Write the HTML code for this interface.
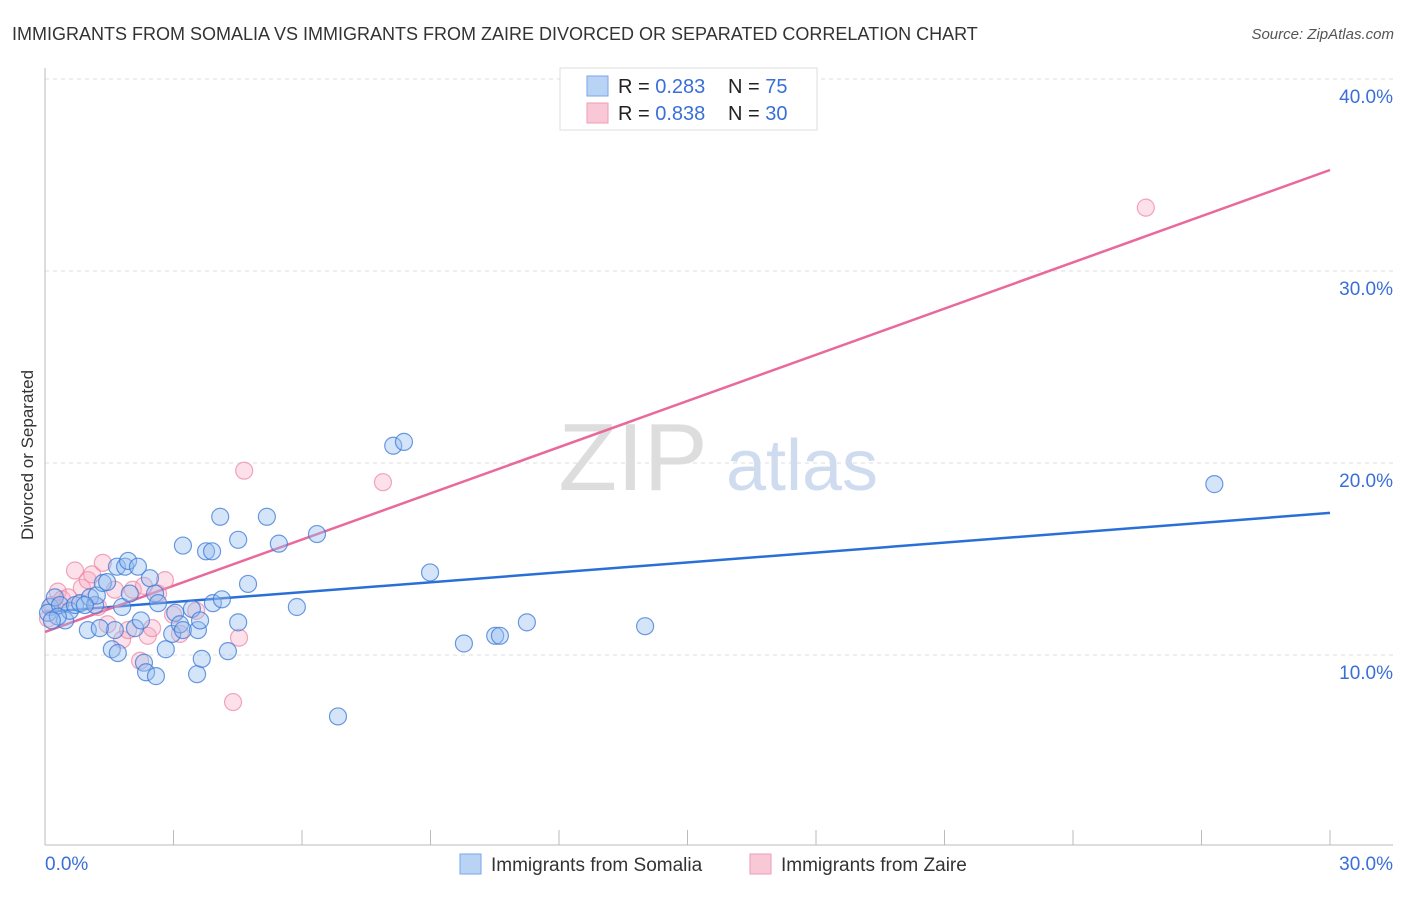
<!DOCTYPE html>
<html><head><meta charset="utf-8"><style>
body{margin:0;background:#fff;font-family:"Liberation Sans",sans-serif;}
svg text{font-family:"Liberation Sans",sans-serif;}
</style></head><body>
<svg id="c" width="1406" height="892" xmlns="http://www.w3.org/2000/svg">
<text x="12" y="40" font-size="18" fill="#333">IMMIGRANTS FROM SOMALIA VS IMMIGRANTS FROM ZAIRE DIVORCED OR SEPARATED CORRELATION CHART</text>
<text x="1394" y="39" font-size="15" fill="#555" font-style="italic" text-anchor="end">Source: ZipAtlas.com</text>
<text x="33" y="455" font-size="17" fill="#333" text-anchor="middle" transform="rotate(-90 33 455)">Divorced or Separated</text>
<g><text x="633" y="490" font-size="96" fill="#ddd" font-family="Liberation Serif" text-anchor="middle">ZIP</text><text x="802" y="490" font-size="72" fill="#cfdcf0" text-anchor="middle">atlas</text></g>
<g id="grid"></g><g id="axes"></g><g id="lines"></g><g id="pts"></g>
<g>
<rect x="560" y="68" width="257" height="62" fill="#fff" stroke="#ddd"/>
<rect x="587" y="76" width="21" height="20" fill="#b9d3f5" stroke="#7aa6e6"/>
<rect x="587" y="103" width="21" height="20" fill="#f9c8d6" stroke="#ee9db5"/>
<text x="618" y="93" font-size="20" fill="#222">R = <tspan fill="#3a6fd8">0.283</tspan></text>
<text x="728" y="93" font-size="20" fill="#222">N = <tspan fill="#3a6fd8"> 75</tspan></text>
<text x="618" y="120" font-size="20" fill="#222">R = <tspan fill="#3a6fd8">0.838</tspan></text>
<text x="728" y="120" font-size="20" fill="#222">N = <tspan fill="#3a6fd8"> 30</tspan></text>
</g>
<g>
<rect x="460" y="854" width="21" height="20" fill="#b9d3f5" stroke="#7aa6e6"/>
<text x="491" y="871" font-size="19" fill="#333">Immigrants from Somalia</text>
<rect x="750" y="854" width="21" height="20" fill="#f9c8d6" stroke="#ee9db5"/>
<text x="781" y="871" font-size="19" fill="#333">Immigrants from Zaire</text>
</g>
</svg>
<script>
const yTicks=[10,20,30,40];
const yTickLabels=["10.0%","20.0%","30.0%","40.0%"];
const xTickLabels=["0.0%","30.0%"];
const somaliaX=[0.12,0.23,0.07,0.35,0.47,0.58,0.7,0.82,1.0,1.05,1.17,1.21,1.35,1.45,1.56,1.63,1.7,1.68,1.87,1.94,1.8,1.98,2.1,2.17,2.24,2.31,2.36,2.45,2.57,2.59,2.64,2.82,2.97,3.04,3.15,3.22,3.22,3.43,3.55,3.57,3.62,3.66,3.76,3.9,3.92,4.09,4.13,4.27,4.51,4.51,4.74,5.18,5.46,5.88,6.35,6.84,8.13,8.38,8.99,9.78,10.51,10.62,11.25,14.01,27.3,0.3,1.28,0.93,0.16];
const somaliaY=[12.5,13.0,12.2,12.6,11.8,12.3,12.6,12.7,11.3,13.0,12.6,13.1,13.75,13.8,10.3,11.3,10.1,14.6,14.6,14.9,12.5,13.2,11.4,14.6,11.8,9.6,9.1,14.0,13.2,8.9,12.7,10.3,11.1,12.2,11.6,15.7,11.3,12.4,9.0,11.3,11.8,9.8,15.4,15.4,12.7,17.2,12.9,10.2,16.0,11.7,13.7,17.2,15.8,12.5,16.3,6.8,20.9,21.1,14.3,10.6,11.0,11.0,11.7,11.5,18.9,12.0,11.4,12.6,11.8];
const zaireX=[0.07,0.16,0.3,0.4,0.54,0.7,0.86,1.0,1.1,1.24,1.35,1.46,1.63,1.8,1.94,2.05,2.22,2.31,2.4,2.5,2.64,2.8,2.99,3.15,3.53,4.39,4.53,4.65,7.89,25.7];
const zaireY=[11.9,12.6,13.3,12.9,13.0,14.4,13.5,13.9,14.2,12.5,14.8,11.6,13.4,10.8,11.3,13.4,9.7,13.6,11.0,11.4,13.2,13.9,12.1,11.1,12.3,7.55,10.9,19.6,19.0,33.3];
const somaliaTrend=[12.24,17.4];
const zaireTrend=[11.2,35.26];
const trendX=[0,30];
const NS="http://www.w3.org/2000/svg";
const sx=v=>45+v*1285/30, sy=v=>847-v*19.2;
function mk(p,tag,a){const e=document.createElementNS(NS,tag);for(const k in a)e.setAttribute(k,a[k]);p.appendChild(e);return e;}
const grid=document.getElementById('grid'),axes=document.getElementById('axes'),lines=document.getElementById('lines'),pts=document.getElementById('pts');
yTicks.forEach((t,i)=>{
 const g=mk(grid,'line',{x1:45,x2:1393,y1:sy(t),y2:sy(t),stroke:'#ddd','stroke-dasharray':'4,4'});
 
 
 const l=mk(axes,'text',{x:1393,y:sy(t)+24,'font-size':19,fill:'#3a6fd8','text-anchor':'end'});
 l.textContent=yTickLabels[i];
 
 
});
const ya=mk(axes,'line',{x1:45,x2:45,y1:68,y2:845,stroke:'#bbb'});


const xa=mk(axes,'line',{x1:45,x2:1393,y1:845,y2:845,stroke:'#bbb'});


for(let i=0;i<=10;i++){const t=mk(axes,'line',{x1:sx(i*3),x2:sx(i*3),y1:830,y2:845,stroke:'#bbb'});
 
 }
const xl0=mk(axes,'text',{x:45,y:870,'font-size':19,fill:'#3a6fd8'});xl0.textContent=xTickLabels[0];


const xl1=mk(axes,'text',{x:1393,y:870,'font-size':19,fill:'#3a6fd8','text-anchor':'end'});xl1.textContent=xTickLabels[1];


function dots(X,Y,fill,stroke,name){X.forEach((x,i)=>{const c=mk(pts,'circle',{cx:sx(x),cy:sy(Y[i]),r:8.5,fill:fill,stroke:stroke,'stroke-width':1.2});
 
 });}
dots(zaireX,zaireY,'rgba(246,170,195,0.35)','rgba(236,130,160,0.7)','zaire-point');
dots(somaliaX,somaliaY,'rgba(150,190,240,0.4)','rgba(60,120,215,0.75)','somalia-point');
const tb=mk(lines,'line',{x1:sx(trendX[0]),x2:sx(trendX[1]),y1:sy(somaliaTrend[0]),y2:sy(somaliaTrend[1]),stroke:'#2a6fd6','stroke-width':2.5});


const tp=mk(lines,'line',{x1:sx(trendX[0]),x2:sx(trendX[1]),y1:sy(zaireTrend[0]),y2:sy(zaireTrend[1]),stroke:'#e8699a','stroke-width':2.5});


</script>
</body></html>
